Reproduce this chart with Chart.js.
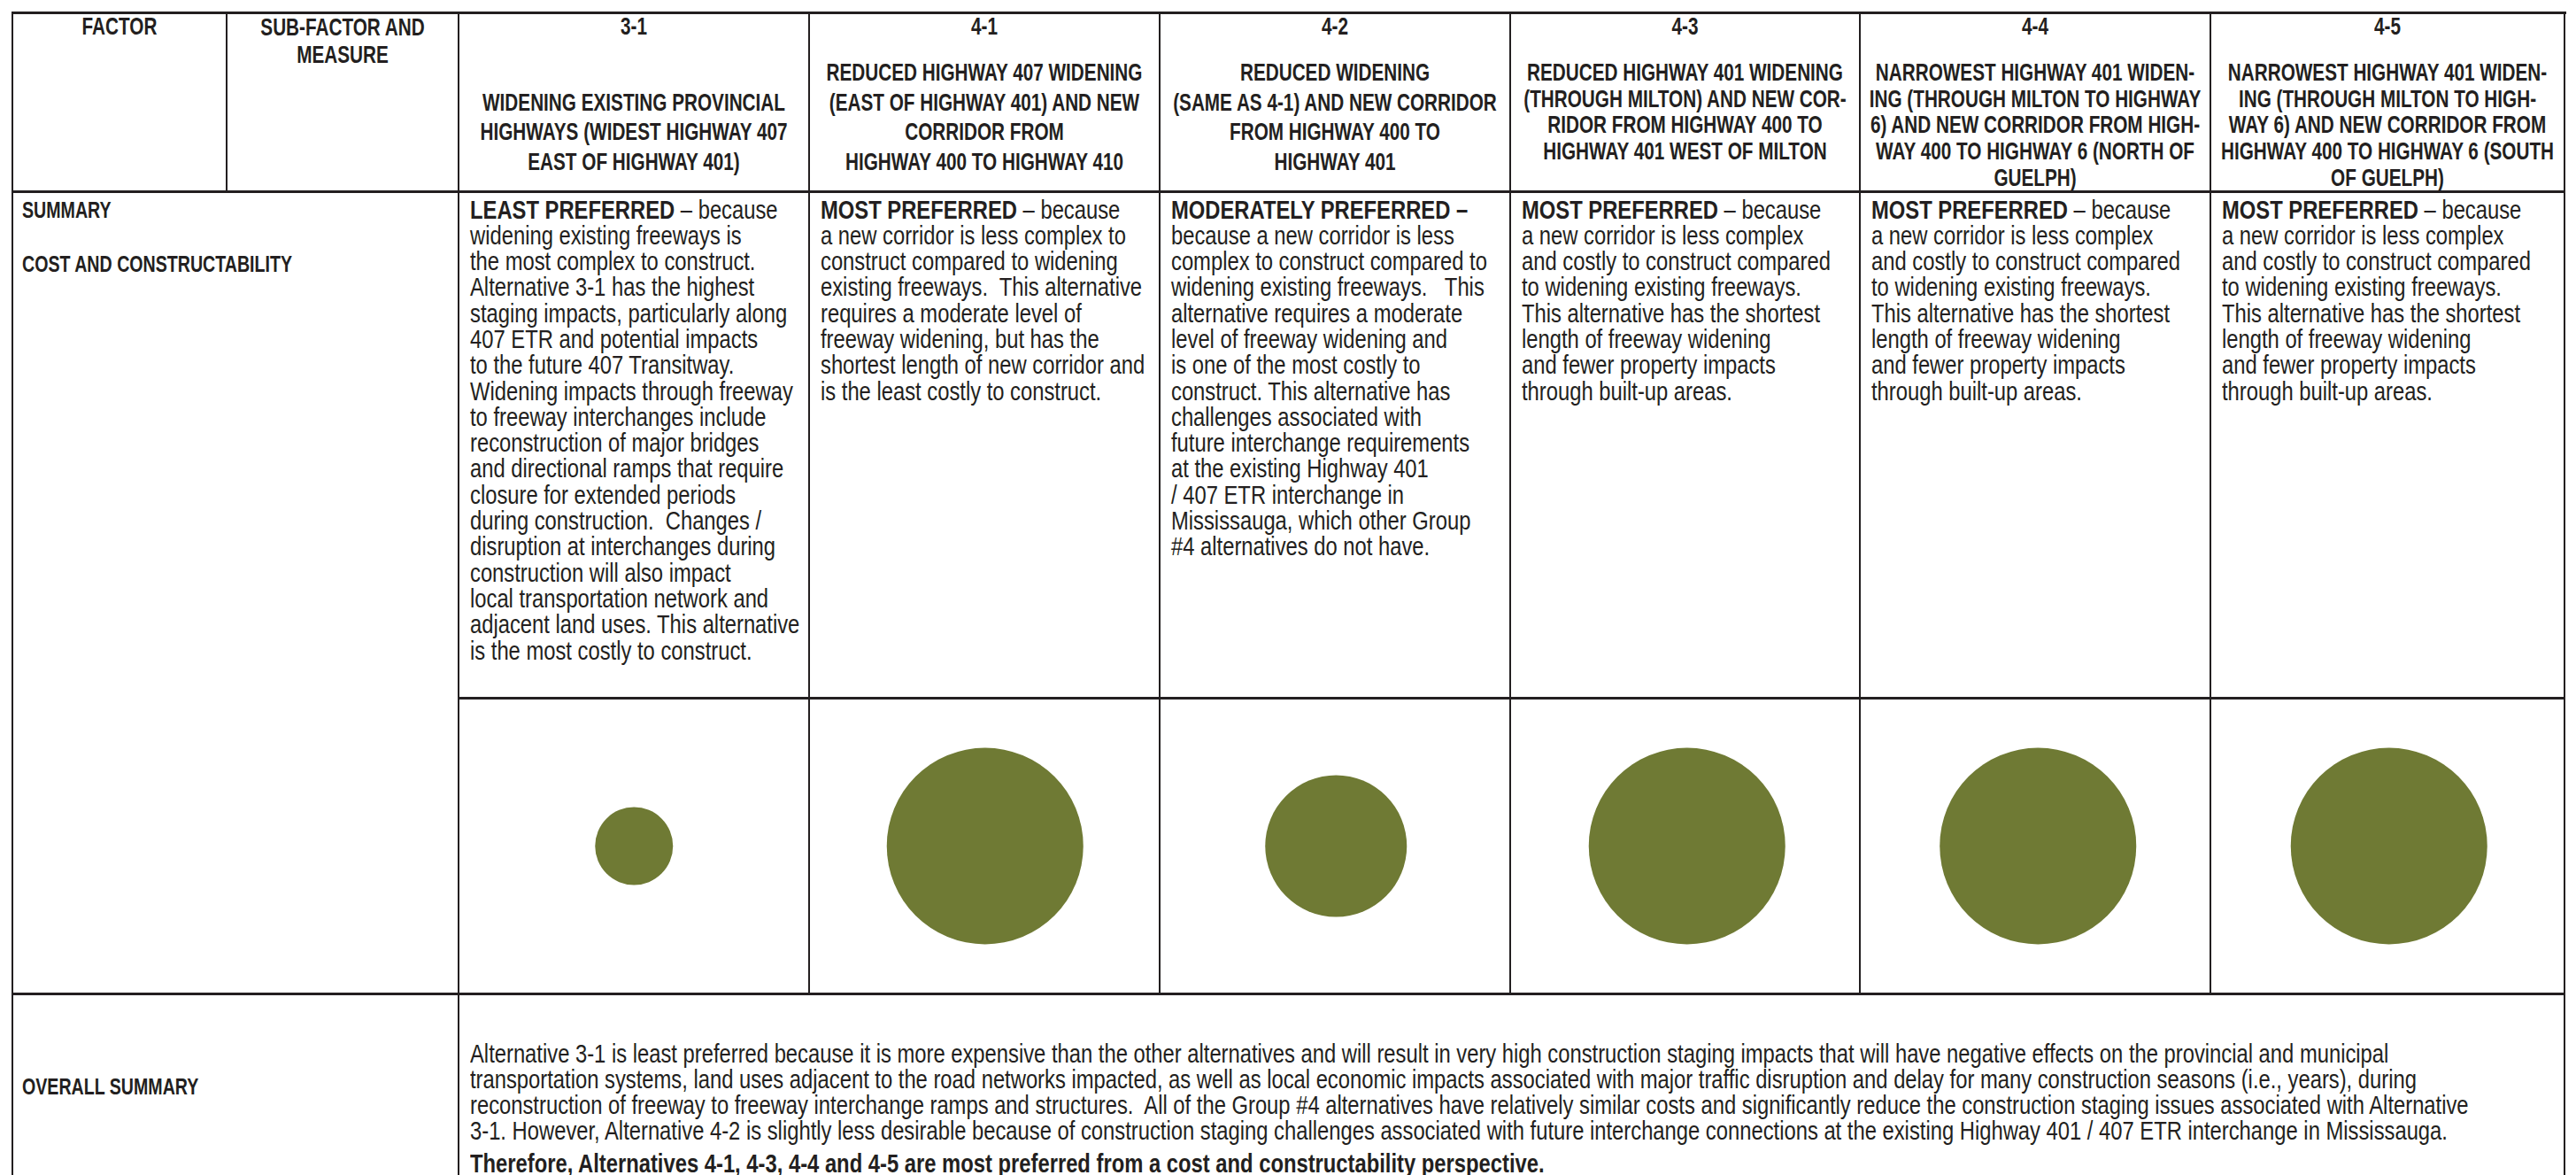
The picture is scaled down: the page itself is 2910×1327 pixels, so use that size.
<!DOCTYPE html>
<html>
<head>
<meta charset="utf-8">
<title>Cost and Constructability</title>
<script src="https://cdn.jsdelivr.net/npm/chart.js@4.4.1/dist/chart.umd.min.js"></script>
<style>
  html, body { margin: 0; padding: 0; background: #fff; }
  #sheet { position: relative; width: 2910px; height: 1327px; overflow: hidden; background: #fff; color: #231f20; }
  .rule { position: absolute; background: #231f20; z-index: 2; }
  .head, .body { position: absolute; font-family: "Liberation Sans", Arial, sans-serif; white-space: pre; transform-origin: 0 0; }
  .head { font-weight: bold; font-size: 28px; line-height: 30px; transform: scaleX(0.74); }
  .label { font-size: 26.5px; }
  .center { text-align: center; }
  .body { font-size: 29px; line-height: 29.3px; transform: scaleX(0.82); }
  .body b { font-weight: bold; }
  #bubbles { position: absolute; z-index: 1; }
</style>
</head>
<body>
<div id="sheet"></div>
<script>
const alternatives = ["3-1", "4-1", "4-2", "4-3", "4-4", "4-5"];

const alternativeTitles = [
  ["", "WIDENING EXISTING PROVINCIAL", "HIGHWAYS (WIDEST HIGHWAY 407", "EAST OF HIGHWAY 401)"],
  ["REDUCED HIGHWAY 407 WIDENING", "(EAST OF HIGHWAY 401) AND NEW", "CORRIDOR FROM", "HIGHWAY 400 TO HIGHWAY 410"],
  ["REDUCED WIDENING", "(SAME AS 4-1) AND NEW CORRIDOR", "FROM HIGHWAY 400 TO", "HIGHWAY 401"],
  ["REDUCED HIGHWAY 401 WIDENING", "(THROUGH MILTON) AND NEW COR-", "RIDOR FROM HIGHWAY 400 TO", "HIGHWAY 401 WEST OF MILTON"],
  ["NARROWEST HIGHWAY 401 WIDEN-", "ING (THROUGH MILTON TO HIGHWAY", "6) AND NEW CORRIDOR FROM HIGH-", "WAY 400 TO HIGHWAY 6 (NORTH OF", "GUELPH)"],
  ["NARROWEST HIGHWAY 401 WIDEN-", "ING (THROUGH MILTON TO HIGH-", "WAY 6) AND NEW CORRIDOR FROM", "HIGHWAY 400 TO HIGHWAY 6 (SOUTH", "OF GUELPH)"],
];

const preferenceLabels = [
  "LEAST PREFERRED",
  "MOST PREFERRED",
  "MODERATELY PREFERRED –",
  "MOST PREFERRED",
  "MOST PREFERRED",
  "MOST PREFERRED",
];

// 1 = least, 2 = moderately, 3 = most preferred
const preferenceScores = [1, 3, 2, 3, 3, 3];

const factorRows = ["COST AND CONSTRUCTABILITY"];

const mostPreferredText = [
  " – because",
  "a new corridor is less complex",
  "and costly to construct compared",
  "to widening existing freeways.",
  "This alternative has the shortest",
  "length of freeway widening",
  "and fewer property impacts",
  "through built-up areas.",
];

const summaryTexts = [
  [
    " – because",
    "widening existing freeways is",
    "the most complex to construct.",
    "Alternative 3-1 has the highest",
    "staging impacts, particularly along",
    "407 ETR and potential impacts",
    "to the future 407 Transitway.",
    "Widening impacts through freeway",
    "to freeway interchanges include",
    "reconstruction of major bridges",
    "and directional ramps that require",
    "closure for extended periods",
    "during construction.  Changes /",
    "disruption at interchanges during",
    "construction will also impact",
    "local transportation network and",
    "adjacent land uses. This alternative",
    "is the most costly to construct.",
  ],
  [
    " – because",
    "a new corridor is less complex to",
    "construct compared to widening",
    "existing freeways.  This alternative",
    "requires a moderate level of",
    "freeway widening, but has the",
    "shortest length of new corridor and",
    "is the least costly to construct.",
  ],
  [
    "",
    "because a new corridor is less",
    "complex to construct compared to",
    "widening existing freeways.   This",
    "alternative requires a moderate",
    "level of freeway widening and",
    "is one of the most costly to",
    "construct. This alternative has",
    "challenges associated with",
    "future interchange requirements",
    "at the existing Highway 401",
    "/ 407 ETR interchange in",
    "Mississauga, which other Group",
    "#4 alternatives do not have.",
  ],
  mostPreferredText,
  mostPreferredText,
  mostPreferredText,
];

const overallText = [
  "Alternative 3-1 is least preferred because it is more expensive than the other alternatives and will result in very high construction staging impacts that will have negative effects on the provincial and municipal",
  "transportation systems, land uses adjacent to the road networks impacted, as well as local economic impacts associated with major traffic disruption and delay for many construction seasons (i.e., years), during",
  "reconstruction of freeway to freeway interchange ramps and structures.  All of the Group #4 alternatives have relatively similar costs and significantly reduce the construction staging issues associated with Alternative",
  "3-1. However, Alternative 4-2 is slightly less desirable because of construction staging challenges associated with future interchange connections at the existing Highway 401 / 407 ETR interchange in Mississauga.",
];
const overallConclusion = "Therefore, Alternatives 4-1, 4-3, 4-4 and 4-5 are most preferred from a cost and constructability perspective.";

// table geometry (page pixels)
const colEdges = [518, 914, 1310, 1706, 2101, 2497, 2897];
const titleLeading = [33.4, 33.4, 33.4, 29.6, 29.6, 29.6];
const headSqueeze = 0.74;
const bubbleRow = { top: 788, bottom: 1123 };
const olive = "#6f7a34";
const radiusByScore = { 1: 44, 2: 80, 3: 111 };

const sheet = document.getElementById("sheet");

function escapeHtml(text) {
  return text.replace(/&/g, "&amp;").replace(/</g, "&lt;").replace(/>/g, "&gt;");
}

function addRule(x, y, w, h) {
  const el = document.createElement("div");
  el.className = "rule";
  el.style.cssText = `left:${x}px;top:${y}px;width:${w}px;height:${h}px`;
  sheet.appendChild(el);
}

// x is the visual left edge, w the visual width (head text is squeezed horizontally)
function addText(className, x, y, w, html) {
  const el = document.createElement("div");
  el.className = className;
  el.style.left = `${x}px`;
  el.style.top = `${y}px`;
  if (w) el.style.width = `${w / headSqueeze}px`;
  el.innerHTML = html;
  sheet.appendChild(el);
  return el;
}

function drawRules() {
  addRule(13, 13, 2886, 3);
  addRule(13, 13, 2, 1314);
  addRule(2896, 13, 2, 1314);
  addRule(255, 13, 2, 204);
  addRule(517, 13, 2, 1314);
  colEdges.slice(1, -1).forEach((x) => addRule(x - 1, 13, 2, 1111));
  addRule(13, 215, 2885, 3);
  addRule(518, 787, 2380, 3);
  addRule(13, 1121, 2885, 3);
}

function drawHeaders() {
  addText("head center", 15, 15, 240, "FACTOR");
  addText("head center", 257, 15, 260, "SUB-FACTOR AND\nMEASURE").style.lineHeight = "31px";
  alternatives.forEach((alt, i) => {
    const left = colEdges[i];
    const width = colEdges[i + 1] - left;
    const leading = titleLeading[i];
    addText("head center", left, 15, width, escapeHtml(alt));
    const title = addText("head center", left, 82 - leading / 2, width, alternativeTitles[i].map(escapeHtml).join("\n"));
    title.style.lineHeight = `${leading}px`;
  });
}

function drawSummary() {
  addText("head label", 25, 222, 0, "SUMMARY");
  addText("head label", 25, 283, 0, escapeHtml(factorRows[0]));
  alternatives.forEach((alt, i) => {
    const lines = summaryTexts[i];
    const first = `<b>${escapeHtml(preferenceLabels[i])}</b>${escapeHtml(lines[0])}`;
    const rest = lines.slice(1).map(escapeHtml);
    addText("body", colEdges[i] + 13, 222.5, 0, [first, ...rest].join("\n"));
  });
  addText("head label", 25, 1212, 0, "OVERALL SUMMARY");
  addText("body", 531, 1175.5, 0, overallText.map(escapeHtml).join("\n"));
  addText("body", 531, 1299.5, 0, `<b>${escapeHtml(overallConclusion)}</b>`);
}

function drawBubbles() {
  // the bubble controller pads the chart area by the largest radius,
  // so the canvas is grown by that much on every side
  const margin = Math.max(...Object.values(radiusByScore));
  const canvas = document.createElement("canvas");
  canvas.id = "bubbles";
  canvas.width = colEdges[colEdges.length - 1] - colEdges[0] + margin * 2;
  canvas.height = bubbleRow.bottom - bubbleRow.top + margin * 2;
  canvas.style.left = `${colEdges[0] - margin}px`;
  canvas.style.top = `${bubbleRow.top - margin}px`;
  sheet.appendChild(canvas);

  new Chart(canvas, {
    type: "bubble",
    data: {
      datasets: [
        {
          label: factorRows[0],
          data: alternatives.map((alt, i) => ({ x: alt, y: factorRows[0], score: preferenceScores[i] })),
          backgroundColor: olive,
          borderWidth: 0,
          radius: (ctx) => radiusByScore[ctx.raw.score],
          hoverRadius: 0,
        },
      ],
    },
    options: {
      responsive: false,
      animation: false,
      events: [],
      layout: { padding: 0 },
      plugins: {
        legend: { display: false },
        tooltip: { enabled: false },
      },
      scales: {
        x: { type: "category", labels: alternatives, offset: true, display: false },
        y: { type: "category", labels: factorRows, offset: true, display: false },
      },
    },
  });
}

drawRules();
drawHeaders();
drawSummary();
drawBubbles();
</script>
</body>
</html>
